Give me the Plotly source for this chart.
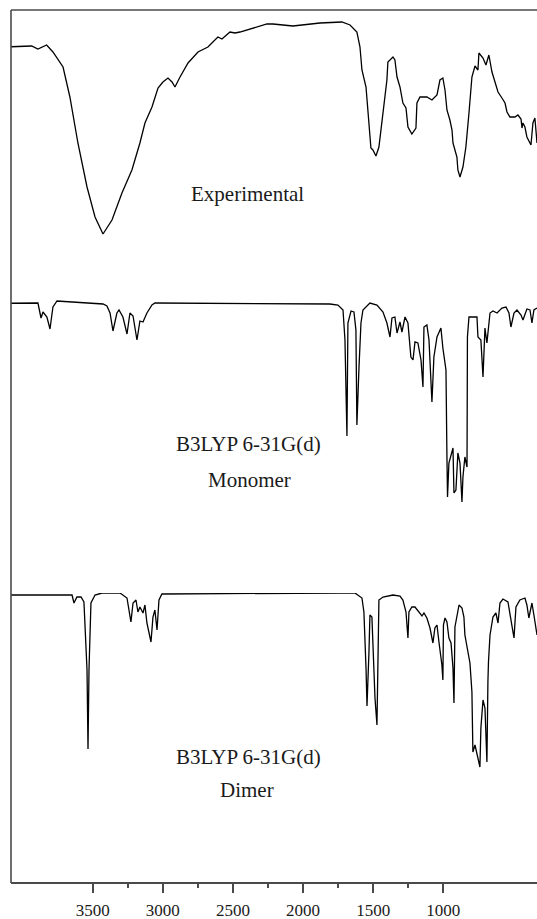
import plotly.graph_objects as go

# ---------------- data ----------------
# Experimental FT-IR spectrum: wavenumber (cm-1) and transmittance (arb. %)
exp_wn = [4082, 3935, 3890, 3828, 3783, 3711, 3662, 3605, 3540, 3483, 3426, 3362, 3291, 3220,
          3163, 3127, 3077, 3034, 2999, 2963, 2934, 2913, 2877, 2820, 2749, 2678, 2607, 2578,
          2521, 2485, 2450, 2357, 2257, 2214, 2072, 1879, 1723, 1665, 1616, 1594, 1580, 1551,
          1537, 1516, 1502, 1480, 1459, 1430, 1402, 1395, 1359, 1345, 1330, 1309, 1288, 1266,
          1252, 1224, 1195, 1188, 1166, 1117, 1081, 1045, 1024, 1003, 988, 974, 953, 938, 931,
          917, 903, 896, 881, 860, 839, 817, 796, 774, 753, 746, 717, 696, 675, 653, 632, 610,
          582, 560, 546, 525, 489, 468, 446, 439, 432, 418, 404, 375, 361, 347, 332]
exp_T = [87.3, 87.6, 86.4, 88.0, 85.2, 79.2, 67.2, 48.8, 31.2, 19.2, 12.4, 18.0, 28.8, 38.0,
         48.8, 56.8, 63.2, 70.8, 73.2, 74.8, 73.2, 71.2, 75.2, 80.8, 85.2, 87.2, 91.2, 90.4,
         93.2, 92.8, 93.2, 94.8, 96.4, 96.4, 95.6, 96.8, 97.2, 96.0, 93.2, 87.2, 78.0, 71.2,
         62.0, 46.8, 46.0, 43.6, 47.2, 62.0, 74.0, 81.2, 83.2, 82.0, 75.2, 71.2, 64.8, 62.8,
         55.2, 52.4, 54.8, 64.8, 67.2, 67.2, 66.0, 68.0, 74.0, 74.8, 70.0, 62.0, 58.0, 54.0, 48.8,
         46.0, 43.2, 38.0, 35.2, 39.2, 47.2, 60.8, 75.2, 79.6, 78.0, 84.8, 82.8, 80.0, 84.0, 77.2, 73.2, 69.2,
         66.8, 64.8, 61.2, 59.2, 59.2, 60.0, 58.4, 54.8, 56.8, 55.2, 51.2, 48.0, 56.8, 58.8, 48.8]

# B3LYP 6-31G(d) monomer
mono_wn = [4082, 3890, 3868, 3854, 3826, 3804, 3783, 3754, 3426, 3398, 3376, 3355, 3327, 3312,
           3284, 3255, 3234, 3212, 3184, 3163, 3141, 3113, 3077, 3056, 1808, 1751, 1715, 1701,
           1687, 1680, 1658, 1637, 1623, 1616, 1601, 1587, 1573, 1523, 1473, 1430, 1402, 1380,
           1366, 1345, 1330, 1309, 1295, 1273, 1252, 1231, 1216, 1202, 1181, 1159, 1145, 1138,
           1117, 1102, 1081, 1067, 1045, 1017, 1003, 981, 974, 970, 960, 931, 924, 910, 896, 881,
           867, 860, 846, 831, 828, 817, 789, 760, 753, 732, 717, 703, 689, 667, 646, 617, 582,
           553, 532, 518, 496, 475, 446, 432, 404, 382, 368, 354, 332]
mono_T = [98.7, 98.8, 92.8, 95.2, 93.2, 88.4, 97.2, 99.6, 98.4, 97.6, 94.8, 87.6, 94.8, 96.0,
          93.2, 86.4, 94.8, 93.6, 84.0, 91.6, 91.2, 94.8, 98.0, 98.8, 98.4, 98.0, 96.0, 84.0,
          45.6, 90.8, 95.6, 95.2, 88.0, 50.0, 73.2, 90.8, 96.0, 98.8, 98.0, 95.2, 90.8, 85.2,
          92.8, 93.2, 86.8, 91.2, 87.2, 93.2, 90.8, 77.2, 76.0, 83.2, 82.8, 76.0, 65.2, 89.2,
          90.0, 84.0, 59.2, 77.2, 85.2, 88.8, 80.8, 72.0, 37.2, 21.2, 34.8, 40.8, 22.8, 24.0, 38.8, 34.8,
          19.2, 29.2, 37.2, 33.2, 85.2, 93.2, 93.2, 93.2, 85.2, 84.0, 69.2, 88.8, 82.8, 94.8, 95.6, 94.8, 96.8,
          97.2, 94.8, 89.2, 94.8, 96.0, 94.0, 92.0, 96.4, 96.0, 90.8, 96.0, 96.8]

# B3LYP 6-31G(d) dimer
dimer_wn = [4082, 3647, 3633, 3612, 3583, 3562, 3540, 3533, 3526, 3512, 3483, 3433, 3305, 3255,
            3227, 3212, 3191, 3177, 3163, 3141, 3127, 3113, 3084, 3070, 3056, 3041, 3027, 3006,
            1737, 1630, 1580, 1566, 1551, 1544, 1530, 1523, 1509, 1501, 1487, 1473, 1466, 1459,
            1430, 1359, 1309, 1288, 1266, 1252, 1245, 1224, 1202, 1174, 1152, 1138, 1117, 1095,
            1074, 1060, 1045, 1031, 1010, 1003, 999, 988, 974, 960, 945, 931, 924, 917, 903, 888,
            867, 853, 846, 831, 810, 796, 789, 774, 760, 739, 732, 717, 703, 689, 682, 678, 667,
            646, 625, 610, 596, 575, 539, 511, 496, 482, 454, 418, 404, 390, 368, 354, 332]
dimer_T = [99.2, 99.2, 96.0, 98.4, 98.4, 96.4, 69.2, 37.6, 69.2, 96.0, 99.2, 100.0, 100.0, 98.0,
           88.4, 96.0, 97.2, 92.4, 94.4, 92.0, 95.2, 88.0, 80.4, 90.4, 93.2, 85.2, 97.2, 99.6,
           100.0, 100.0, 98.0, 92.4, 70.0, 54.8, 76.4, 91.2, 90.4, 79.2, 58.0, 47.2, 76.4, 97.2,
           98.4, 99.2, 98.8, 97.2, 92.4, 82.0, 92.4, 94.4, 94.4, 92.4, 90.8, 92.0, 90.0, 86.0,
           80.0, 86.0, 87.2, 80.4, 71.2, 65.2, 87.2, 90.0, 88.4, 82.0, 80.0, 70.0, 56.0, 86.4, 90.0, 95.2,
           94.0, 90.4, 83.2, 78.0, 72.0, 60.4, 36.4, 39.2, 35.2, 30.4, 46.0, 57.2, 54.0, 32.4, 64.4, 72.4, 83.2,
           90.4, 92.0, 88.0, 96.0, 97.6, 96.4, 86.0, 82.0, 94.4, 97.2, 98.0, 95.2, 90.0, 96.0, 91.2, 83.2]

tick_vals = [3500, 3000, 2500, 2000, 1500, 1000]
tick_text = ["3500", "3000", "2500", "2000", "1500", "1000"]
minor_vals = [3250, 2750, 2250, 1750, 1250]
x_range = [4082, 332]

labels = ["Experimental", "B3LYP 6-31G(d)", "Monomer", "B3LYP 6-31G(d)", "Dimer"]

# ---------------- figure ----------------
W, H = 537, 919
ML, MR, MT, MB = 11, 0, 10, 36
ph = H - MT - MB
pw = W - ML - MR

def frac_y(py):
    return (H - MB - py) / ph

def frac_x(px):
    return (px - ML) / pw

line_style = dict(color="#000000", width=1.3)

fig = go.Figure()
fig.add_trace(go.Scatter(x=exp_wn, y=exp_T, mode="lines", line=line_style, yaxis="y", showlegend=False))
fig.add_trace(go.Scatter(x=mono_wn, y=mono_T, mode="lines", line=line_style, yaxis="y2", showlegend=False))
fig.add_trace(go.Scatter(x=dimer_wn, y=dimer_T, mode="lines", line=line_style, yaxis="y3", showlegend=False))

hidden_y = dict(range=[0, 100], showgrid=False, zeroline=False, showticklabels=False,
                ticks="", showline=False, fixedrange=True, anchor="x")

frame_color = "#4a4a4a"

fig.update_layout(
    template="none",
    width=W, height=H,
    margin=dict(l=ML, r=MR, t=MT, b=MB, pad=0),
    paper_bgcolor="white", plot_bgcolor="white",
    font=dict(family="Liberation Serif, Times New Roman, serif", color="#1a1a1a"),
    xaxis=dict(range=x_range, tickmode="array", tickvals=tick_vals, ticktext=tick_text,
               anchor="free", position=0,
               ticks="outside", ticklen=9, tickwidth=1.5, tickcolor=frame_color,
               minor=dict(tickmode="array", tickvals=minor_vals, ticks="outside",
                          ticklen=4, tickwidth=1.5, tickcolor=frame_color, showgrid=False),
               showline=True, mirror=False, linecolor=frame_color, linewidth=1.6,
               showgrid=False, zeroline=False, automargin=False,
               tickfont=dict(size=17, color="#1a1a1a"), ticklabelstandoff=3),
    yaxis=dict(domain=[frac_y(265), frac_y(15)], **hidden_y),
    yaxis2=dict(domain=[frac_y(550), frac_y(300)], **hidden_y),
    yaxis3=dict(domain=[frac_y(843), frac_y(593)], **hidden_y),
    shapes=[dict(type="line", xref="paper", yref="paper", x0=0, x1=0, y0=0, y1=1,
                 line=dict(color=frame_color, width=1.6)),
            dict(type="line", xref="paper", yref="paper", x0=0, x1=1, y0=1, y1=1,
                 line=dict(color=frame_color, width=1.6))],
)

ann_pos = [(247, 194), (248, 444), (249.5, 480), (248, 757), (246.5, 790)]
for txt, (ax, ay) in zip(labels, ann_pos):
    fig.add_annotation(text=txt, xref="paper", yref="paper", x=frac_x(ax), y=frac_y(ay),
                       xanchor="center", yanchor="middle", showarrow=False,
                       font=dict(size=21, color="#1a1a1a"))

fig.write_html("out.html", config={"displayModeBar": False},
               post_script="document.body.style.margin='0';document.body.style.padding='0';")
